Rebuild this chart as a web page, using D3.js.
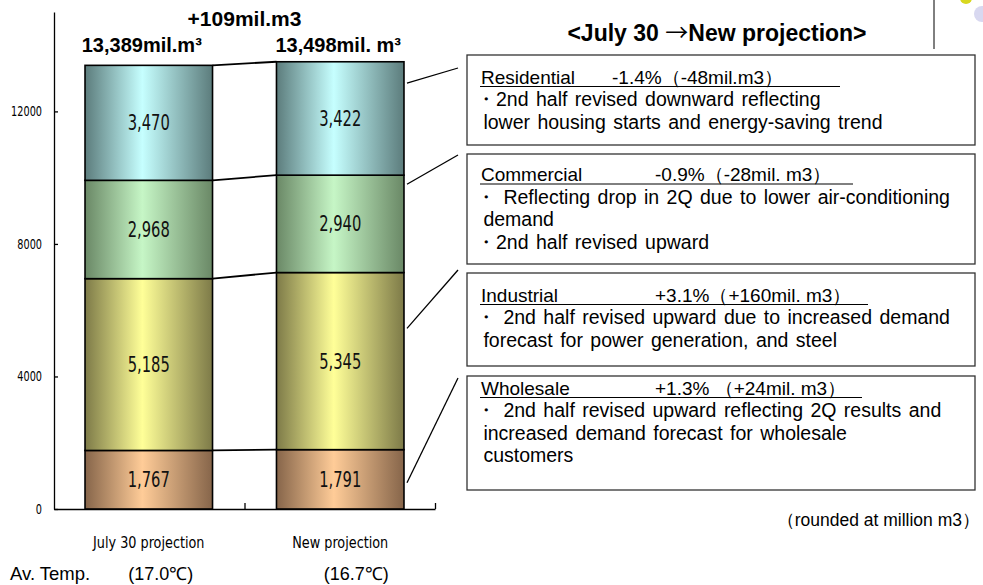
<!DOCTYPE html>
<html>
<head>
<meta charset="utf-8">
<script src="https://cdn.jsdelivr.net/npm/d3@7"></script>
<style>
  body { margin: 0; background: #fff; }
  svg { display: block; }
  .narrow { font-family: "DejaVu Sans Condensed", "DejaVu Sans", sans-serif; }
  .sans { font-family: "Liberation Sans", Arial, sans-serif; }
  .cjk { font-family: "Noto Sans CJK JP", sans-serif; }
</style>
</head>
<body>
<div id="chart"></div>
<script>
// Data
var categories = ["July 30 projection", "New projection"];
var sectors = ["Wholesale", "Industrial", "Commercial", "Residential"];
var wholesale = [1767, 1791];
var industrial = [5185, 5345];
var commercial = [2968, 2940];
var residential = [3470, 3422];
var totalLabels = ["13,389mil.m\u00b3", "13,498mil. m\u00b3"];
var diffLabel = "+109mil.m3";
var temps = ["(17.0\u2103)", "(16.7\u2103)"];
var yTicks = [0, 4000, 8000, 12000];

var notes = [
  { head: "Residential", change: "-1.4%\uff08-48mil.m3\uff09",
    lines: ["\u30fb2nd half revised downward reflecting", " lower housing starts and energy-saving trend"] },
  { head: "Commercial", change: "-0.9%\uff08-28mil. m3\uff09",
    lines: ["\u30fb Reflecting drop in 2Q due to lower air-conditioning", " demand", "\u30fb2nd half revised upward"] },
  { head: "Industrial", change: "+3.1%\uff08+160mil. m3\uff09",
    lines: ["\u30fb 2nd half revised upward due to increased demand", " forecast for power generation, and steel"] },
  { head: "Wholesale", change: "+1.3% \uff08+24mil. m3\uff09",
    lines: ["\u30fb 2nd half revised upward reflecting 2Q results and", " increased demand forecast for wholesale", " customers"] }
];

var W = 983, H = 585;
var margin = { top: 12, left: 54, bottom: 76, right: 548 };
var width = W - margin.left - margin.right;
var height = H - margin.top - margin.bottom;

var svg = d3.select("#chart").append("svg")
  .attr("width", W)
  .attr("height", H);

var defs = svg.append("defs");
var gradColors = {
  Residential: ["#5c7c7c", "#c6ffff"],
  Commercial: ["#6a8866", "#c6f6c6"],
  Industrial: ["#7d7a48", "#ffff98"],
  Wholesale: ["#86654a", "#ffcc98"]
};
sectors.forEach(function(s) {
  var g = defs.append("linearGradient").attr("id", "g-" + s)
    .attr("x1", "0%").attr("x2", "100%").attr("y1", "0%").attr("y2", "0%");
  g.append("stop").attr("offset", "0%").attr("stop-color", gradColors[s][0]);
  g.append("stop").attr("offset", "45%").attr("stop-color", gradColors[s][1]);
  g.append("stop").attr("offset", "100%").attr("stop-color", gradColors[s][0]);
});

var chart = svg.append("g")
  .attr("transform", `translate(${margin.left}, ${margin.top})`);

// stacked table
var table = categories.map(function(c, i) {
  return { cat: c, Wholesale: wholesale[i], Industrial: industrial[i], Commercial: commercial[i], Residential: residential[i] };
});
var stacked = d3.stack().keys(sectors)(table);

var x = d3.scaleBand()
  .domain(categories)
  .range([0, width])
  .paddingInner(0.334)
  .paddingOuter(0.162);

var y = d3.scaleLinear()
  .domain([0, 15000])
  .range([height, 0]);

// y axis
var yAxis = chart.append("g")
  .call(d3.axisLeft(y).tickValues(yTicks).tickSize(-4).tickSizeOuter(0).tickPadding(12).tickFormat(d3.format("d")));
yAxis.selectAll("text")
  .attr("class", "narrow")
  .attr("font-size", 13.5)
  .attr("fill", "#000")
  .attr("transform", "translate(-12,0) scale(0.8,1) translate(12,0)");
yAxis.selectAll("line, path").attr("stroke", "#000").attr("stroke-width", 1.3);

// x axis: ticks at category boundaries
var xEdge = d3.scaleLinear().domain([0, categories.length]).range([0, width]);
var xAxis = chart.append("g")
  .attr("transform", `translate(0, ${height})`)
  .call(d3.axisBottom(xEdge).tickValues([1, 2]).tickSize(-6).tickSizeOuter(0).tickFormat(""));
xAxis.selectAll("line, path").attr("stroke", "#000").attr("stroke-width", 1.3);

// connector lines between the two bars
var levels = stacked.map(function(layer) {
  return layer.map(function(d) { return d[1]; });
});
chart.append("g").selectAll("line")
  .data(levels)
  .enter()
  .append("line")
  .attr("x1", x(categories[0]) + x.bandwidth())
  .attr("x2", x(categories[1]))
  .attr("y1", d => y(d[0]))
  .attr("y2", d => y(d[1]))
  .attr("stroke", "#000")
  .attr("stroke-width", 1.8);

// bars
var layers = chart.append("g").selectAll("g")
  .data(stacked)
  .enter()
  .append("g")
  .attr("fill", d => `url(#g-${d.key})`);

layers.selectAll("rect")
  .data(d => d)
  .enter()
  .append("rect")
  .attr("x", d => x(d.data.cat))
  .attr("y", d => y(d[1]))
  .attr("width", x.bandwidth())
  .attr("height", d => y(d[0]) - y(d[1]))
  .attr("stroke", "#000")
  .attr("stroke-width", 1.6);

layers.selectAll("text")
  .data(d => d)
  .enter()
  .append("text")
  .attr("class", "narrow")
  .attr("transform", d => `translate(${x(d.data.cat) + x.bandwidth() / 2}, ${(y(d[0]) + y(d[1])) / 2 + 7.5}) scale(0.78,1)`)
  .attr("text-anchor", "middle")
  .attr("font-size", 21)
  .attr("fill", "#111")
  .text(d => d3.format(",")(d[1] - d[0]));

// totals and difference
var totalShift = [-7, -2];
chart.append("g").selectAll("text")
  .data(categories)
  .enter()
  .append("text")
  .attr("class", "sans")
  .attr("x", (d, i) => x(d) + x.bandwidth() / 2 + totalShift[i])
  .attr("y", 40)
  .attr("text-anchor", "middle")
  .attr("font-size", 20)
  .attr("font-weight", "bold")
  .text((d, i) => totalLabels[i]);

chart.append("text")
  .attr("class", "sans")
  .attr("x", xEdge(1))
  .attr("y", 14)
  .attr("text-anchor", "middle")
  .attr("font-size", 21)
  .attr("font-weight", "bold")
  .text(diffLabel);

// category labels
chart.append("g").selectAll("text")
  .data(categories)
  .enter()
  .append("text")
  .attr("class", "narrow")
  .attr("transform", d => `translate(${x(d) + x.bandwidth() / 2}, ${height + 39}) scale(0.92,1)`)
  .attr("text-anchor", "middle")
  .attr("font-size", 15.5)
  .text(d => d);

// average temperature row
svg.append("text")
  .attr("class", "sans")
  .attr("x", 10)
  .attr("y", 580)
  .attr("font-size", 18.5)
  .text("Av. Temp.");
var tempShift = [12, 16];
svg.append("g").selectAll("text")
  .data(temps)
  .enter()
  .append("text")
  .attr("class", "sans")
  .attr("x", (d, i) => margin.left + x(categories[i]) + x.bandwidth() / 2 + tempShift[i])
  .attr("y", 580)
  .attr("text-anchor", "middle")
  .attr("font-size", 18)
  .text(d => d);

// right-hand commentary
var title = svg.append("text")
  .attr("class", "sans")
  .attr("x", 717)
  .attr("y", 41)
  .attr("text-anchor", "middle")
  .attr("font-size", 23)
  .attr("font-weight", "bold");
title.append("tspan").text("<July 30 ");
title.append("tspan").attr("class", "cjk").attr("font-weight", "normal").text("\u2192");
title.append("tspan").text("New projection>");

var boxX = 467, boxW = 508;
var boxTops = [55, 154, 273, 376];
var boxHeights = [90, 110, 93, 114];
var headBase = [83.5, 181, 301.5, 394.5];
var lineGap = 22.5;
var changeX = [612, 655, 655, 655];
var underlineEnd = [840, 853, 868, 862];
// where the pointer leaves the right bar (value units) and where it meets the box
var pointerFrom = [12850, 9800, 5450, 790];
var pointerTo = [68, 155, 270, 378];

var noteG = svg.append("g").attr("class", "sans");
notes.forEach(function(n, i) {
  var g = noteG.append("g");
  g.append("rect")
    .attr("x", boxX).attr("y", boxTops[i])
    .attr("width", boxW).attr("height", boxHeights[i])
    .attr("fill", "#fff").attr("stroke", "#333").attr("stroke-width", 1.3);
  var base = headBase[i];
  g.append("text").attr("x", 481).attr("y", base).attr("font-size", 19).text(n.head);
  g.append("text").attr("x", changeX[i]).attr("y", base).attr("font-size", 19).text(n.change);
  g.append("line")
    .attr("x1", 480).attr("x2", underlineEnd[i])
    .attr("y1", base + 3).attr("y2", base + 3)
    .attr("stroke", "#000").attr("stroke-width", 1);
  n.lines.forEach(function(t, j) {
    g.append("text")
      .attr("x", 476)
      .attr("y", base + lineGap * (j + 1))
      .attr("font-size", 19.5)
      .attr("word-spacing", 2)
      .style("white-space", "pre")
      .text(t);
  });
  svg.append("line")
    .attr("x1", margin.left + x(categories[1]) + x.bandwidth() + 3)
    .attr("y1", margin.top + y(pointerFrom[i]))
    .attr("x2", boxX - 9)
    .attr("y2", pointerTo[i])
    .attr("stroke", "#000").attr("stroke-width", 1.3);
});

svg.append("text")
  .attr("class", "sans")
  .attr("x", 980)
  .attr("y", 526)
  .attr("text-anchor", "end")
  .attr("font-size", 17.5)
  .text("\uff08rounded at million m3\uff09");

// page decoration in the top right corner
svg.append("line")
  .attr("x1", 934).attr("x2", 934).attr("y1", 0).attr("y2", 49)
  .attr("stroke", "#000").attr("stroke-width", 1);
svg.append("circle").attr("cx", 966).attr("cy", -2).attr("r", 6).attr("fill", "#d8d820");
svg.append("circle").attr("cx", 982).attr("cy", 14).attr("r", 8).attr("fill", "#d8d8f0");
</script>
</body>
</html>
